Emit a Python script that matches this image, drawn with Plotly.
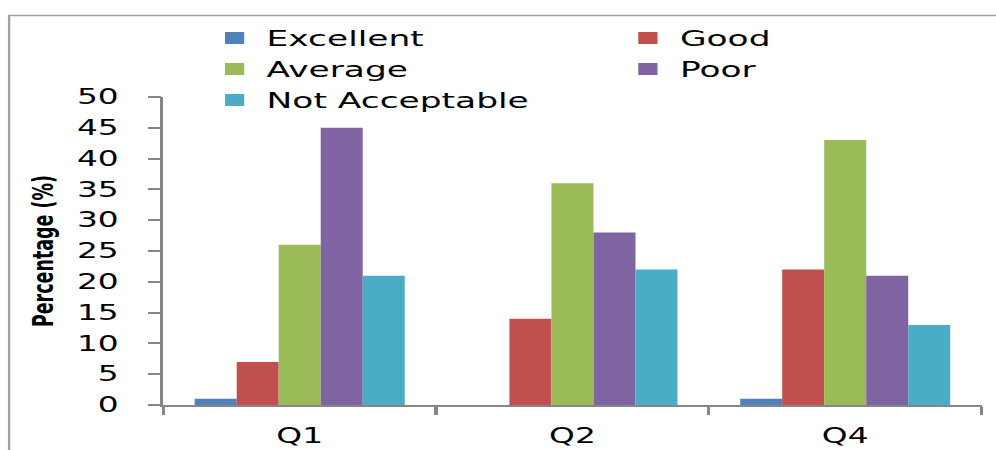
import plotly.graph_objects as go

# Survey results per quarter (percent of responses)
quarters = ["Q1", "Q2", "Q4"]
ratings = ["Excellent", "Good", "Average", "Poor", "Not Acceptable"]
excellent = [1, 0, 1]
good = [7, 14, 22]
average = [26, 36, 43]
poor = [45, 28, 21]
not_acceptable = [21, 22, 13]
series = [excellent, good, average, poor, not_acceptable]
colors = ["#4F81BD", "#C0504D", "#9BBB59", "#8064A2", "#4BACC6"]
# legend column for each rating (two-column key, filled row by row)
legend_column = ["legend", "legend2", "legend", "legend2", "legend"]
y_ticks = list(range(0, 55, 5))

# The page is laid out narrow and widened horizontally on screen
W, H = 622, 450
STRETCH = 996 / W
ML, MR, MT, MB = 102, 9, 97, 45
PW, PH = W - ML - MR, H - MT - MB

AXIS = "#868686"
FONT = "DejaVu Sans"

fig = go.Figure()
for name, vals, col, leg in zip(ratings, series, colors, legend_column):
    fig.add_trace(go.Bar(x=quarters, y=vals, name=name, marker_color=col,
                         marker_line_width=0, legend=leg))


def px_x(p):
    return (p - ML) / PW


def px_y(p):
    return (H - MB - p) / PH


legend_style = dict(
    orientation="v", xanchor="left", yanchor="top", y=px_y(17.5),
    font=dict(family=FONT, size=21.5, color="black"),
    bgcolor="rgba(0,0,0,0)", borderwidth=0, traceorder="normal",
)

fig.update_layout(
    width=W, height=H,
    margin=dict(l=ML, r=MR, t=MT, b=MB, pad=0),
    paper_bgcolor="white", plot_bgcolor="white",
    barmode="group", bargap=0.23, bargroupgap=0,
    font=dict(family=FONT, color="black"),
    legend=dict(x=px_x(126.5), **legend_style),
    legend2=dict(x=px_x(384.6), **legend_style),
    xaxis=dict(
        type="category", showline=True, linecolor=AXIS, linewidth=1.5,
        ticks="outside", tickson="boundaries", ticklen=8, tickwidth=1.5,
        tickcolor=AXIS, showgrid=False, zeroline=False, automargin=False,
        tickfont=dict(family=FONT, size=20.5, color="black"),
        ticklabelstandoff=12,
    ),
    yaxis=dict(
        range=[0, 50], tickmode="array", tickvals=y_ticks,
        showline=True, linecolor=AXIS, linewidth=1.5,
        ticks="outside", ticklen=8, tickwidth=1.5, tickcolor=AXIS,
        showgrid=False, zeroline=False, automargin=False,
        tickfont=dict(family=FONT, size=20.5, color="black"),
        ticklabelstandoff=14,
        title=dict(text="Percentage (%)", standoff=10,
                   font=dict(family=FONT, size=17.5, color="black", weight="bold")),
    ),
    shapes=[dict(type="rect", xref="paper", yref="paper",
                 x0=px_x(5.7), x1=1.3, y0=-0.3, y1=px_y(15.5),
                 line=dict(color="#A0A0A0", width=1.5), layer="below")],
)

post = (
    "document.body.style.margin='0';"
    "var gd=document.getElementById('{plot_id}');"
    "gd.style.transformOrigin='0 0';"
    "gd.style.transform='scaleX(%.5f)';" % STRETCH
)
fig.write_html("out.html", post_script=post)
